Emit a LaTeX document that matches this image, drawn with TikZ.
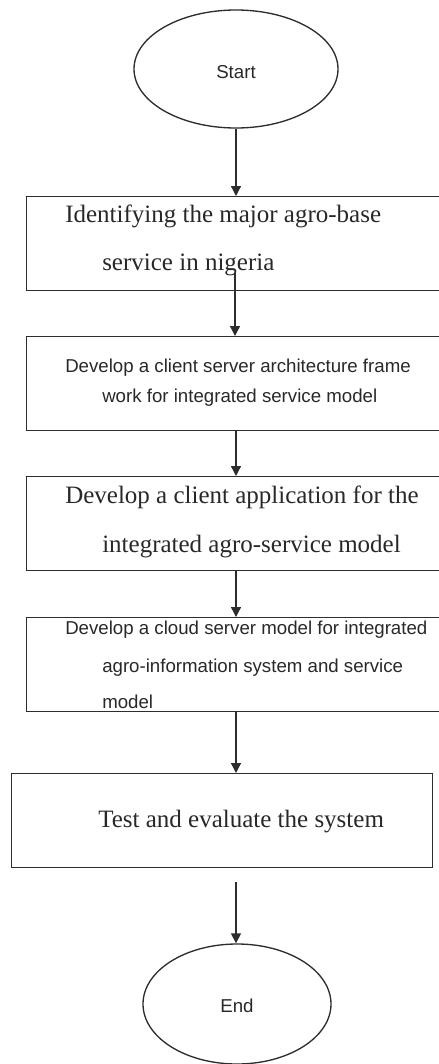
\documentclass[tikz,border=0pt]{standalone}
\usepackage{fontspec}
\setmainfont{Liberation Serif}
\setsansfont{Liberation Sans}
\usetikzlibrary{arrows.meta,shapes.geometric}
\definecolor{ink}{RGB}{40,40,40}
\definecolor{rule}{RGB}{45,45,45}
\tikzset{
  stepbox/.style={draw=rule, line width=1pt, rectangle, inner sep=0pt, anchor=north west,
                  minimum height=70.5pt},
  terminal/.style={draw=rule, line width=1pt, ellipse, inner sep=0pt},
  flow/.style={draw=rule, line width=1pt, -{Triangle[length=7.5pt,width=7.5pt]}},
  serifline/.style={anchor=base west, inner sep=0pt, text=ink, font=\fontsize{18.75pt}{22pt}\selectfont},
  sansline/.style={anchor=base west, inner sep=0pt, text=ink, font=\sffamily\fontsize{14pt}{17pt}\selectfont},
  sanslabel/.style={anchor=base, inner sep=0pt, text=ink, font=\sffamily\fontsize{14pt}{17pt}\selectfont},
}
\begin{document}
\begin{tikzpicture}[x=0.75pt,y=-0.75pt]
\useasboundingbox (0,0) rectangle (439,1064);
\clip (0,0) rectangle (439,1064);

% terminals
\node[terminal, minimum width=153pt, minimum height=88.5pt] (start) at (236,69) {};
\node[sanslabel] (starttxt) at (236,78) {Start};
\node[terminal, minimum width=141pt, minimum height=90pt] (end) at (237,1004) {};
\node[sanslabel] (endtxt) at (237,1012) {End};

% process steps
\node[stepbox, minimum width=312pt] (b1) at (26,196) {};
\node[stepbox, minimum width=312pt] (b2) at (26,336) {};
\node[stepbox, minimum width=312pt] (b3) at (26,476) {};
\node[stepbox, minimum width=312pt] (b4) at (26,617) {};
\node[stepbox, minimum width=315.75pt] (b5) at (11,773) {};

% step texts
\node[serifline] (t1a) at (65,222) {Identifying the major agro-base};
\node[serifline] (t1b) at (102,270) {service in nigeria};
\node[sansline] (t2a) at (65,372) {Develop a client server architecture frame};
\node[sansline] (t2b) at (102,402) {work for integrated service model};
\node[serifline] (t3a) at (65,503) {Develop a client application for the};
\node[serifline] (t3b) at (102,552) {integrated agro-service model};
\node[sansline] (t4a) at (65,634) {Develop a cloud server model for integrated};
\node[sansline] (t4b) at (102,672) {agro-information system and service};
\node[sansline] (t4c) at (102,708) {model};
\node[serifline] (t5) at (98,827) {Test and evaluate the system};

% connectors
\coordinate (axis) at (236,0);
\coordinate (c2) at (235,273);
\coordinate (c6) at (236,882);
\draw[flow] (start.south) -- (start.south |- b1.north);
\draw[flow] (c2) -- (c2 |- b2.north);
\draw[flow] (axis |- b2.south) -- (axis |- b3.north);
\draw[flow] (axis |- b3.south) -- (axis |- b4.north);
\draw[flow] (axis |- b4.south) -- (axis |- b5.north);
\draw[flow] (c6) -- (c6 |- end.north);
\end{tikzpicture}
\end{document}
